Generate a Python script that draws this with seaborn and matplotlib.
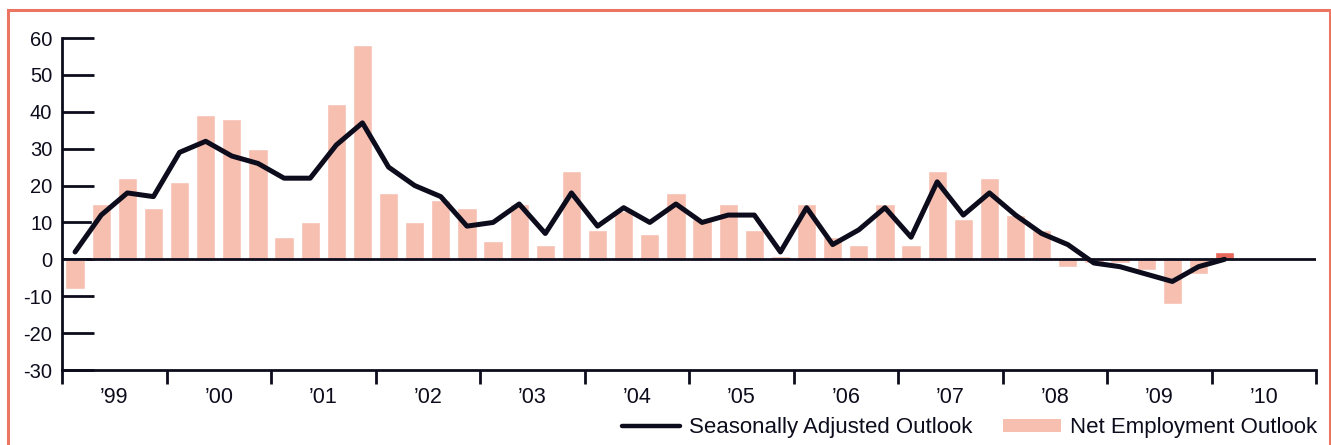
import matplotlib
matplotlib.use("Agg")
import matplotlib.pyplot as plt
from matplotlib.patches import Rectangle, Patch
from matplotlib.lines import Line2D
import numpy as np
import pandas as pd
import seaborn as sns

# Quarterly survey results, Q1 1999 .. Q1 2010
net_employment = [-8, 15, 22, 14, 21, 39, 38, 30, 6, 10, 42, 58, 18, 10, 16,
                  14, 5, 15, 4, 24, 8, 13, 7, 18, 11, 15, 8, 1, 15, 6,
                  4, 15, 4, 24, 11, 22, 12, 8, -2, -1, -1, -3, -12, -4, 2]
seasonally_adjusted = [2, 12, 18, 17, 29, 32, 28, 26, 22, 22, 31, 37, 25, 20, 17,
                       9, 10, 15, 7, 18, 9, 14, 10, 15, 10, 12, 12, 2, 14, 4,
                       8, 14, 6, 21, 12, 18, 12, 7, 4, -1, -2, -4, -6, -2, 0]
year_labels = ["\u201999", "\u201900", "\u201901", "\u201902", "\u201903", "\u201904",
               "\u201905", "\u201906", "\u201907", "\u201908", "\u201909", "\u201910"]

BAR = "#F6BFB0"
BAR_LATEST = "#E8675A"
INK = "#0c0c1c"
FRAME = "#EB7563"

n = len(net_employment)
df = pd.DataFrame({
    "quarter": [f"Q{i}" for i in range(n)],
    "pos": np.arange(n),
    "net": net_employment,
    "sa": seasonally_adjusted,
    "latest": ["yes" if i == n - 1 else "no" for i in range(n)],
})

sns.set_theme(style="white")
plt.rcParams["font.family"] = ["Liberation Sans", "DejaVu Sans"]
plt.rcParams["axes.unicode_minus"] = False

fig = plt.figure(figsize=(13.31, 4.45), dpi=100)
ax = fig.add_axes([62 / 1331, 1 - 370 / 445, (1316 - 62) / 1331, (370 - 38) / 445])

sns.barplot(data=df, x="quarter", y="net", hue="latest",
            palette={"no": BAR, "yes": BAR_LATEST}, width=0.74,
            dodge=False, legend=False, saturation=1, ax=ax, zorder=2)
sns.lineplot(data=df, x="pos", y="sa", color=INK, linewidth=3.6,
             ax=ax, zorder=4, legend=False)
ax.axhline(0, color=INK, linewidth=2, zorder=3)

ax.set_xlim(-0.5, 47.5)
ax.set_ylim(-30, 60)
ax.set_xlabel("")
ax.set_ylabel("")

# y axis: long inward ticks
ax.set_yticks(np.arange(-30, 61, 10))
ax.tick_params(axis="y", left=True, direction="in", length=23, width=2,
               color=INK, labelsize=14.5, labelcolor=INK, pad=7)

# x axis: year boundaries as ticks, year names centred between them
ax.set_xticks(np.arange(-0.5, 48, 4))
ax.set_xticklabels([])
ax.set_xticks(np.arange(1.5, 48, 4), minor=True)
ax.set_xticklabels(year_labels, minor=True)
ax.tick_params(axis="x", which="major", bottom=True, direction="out",
               length=10, width=2, color=INK)
ax.tick_params(axis="x", which="minor", bottom=True, length=0, labelsize=15.5,
               labelcolor=INK, pad=12)

for side in ("top", "right"):
    ax.spines[side].set_visible(False)
for side in ("left", "bottom"):
    ax.spines[side].set_color(INK)
    ax.spines[side].set_linewidth(2)
ax.grid(False)

handles = [
    Line2D([0], [0], color=INK, linewidth=3.2),
    Patch(facecolor=BAR, edgecolor="none"),
]
ax.legend(handles, ["Seasonally Adjusted Outlook", "Net Employment Outlook"],
          loc="upper right", bbox_to_anchor=(1.008, -0.115), ncol=2,
          frameon=False, fontsize=16, handlelength=2.6, handleheight=0.5,
          handletextpad=0.4, columnspacing=1.4, borderaxespad=0,
          labelcolor=INK)

# salmon frame around the panel
fig.patches.append(Rectangle((7.5 / 1331, -0.05), (1329.5 - 7.5) / 1331,
                             1.05 - 10 / 445, transform=fig.transFigure,
                             fill=False, edgecolor=FRAME, linewidth=2.2))

fig.savefig("out.png", dpi=100, facecolor="white")
